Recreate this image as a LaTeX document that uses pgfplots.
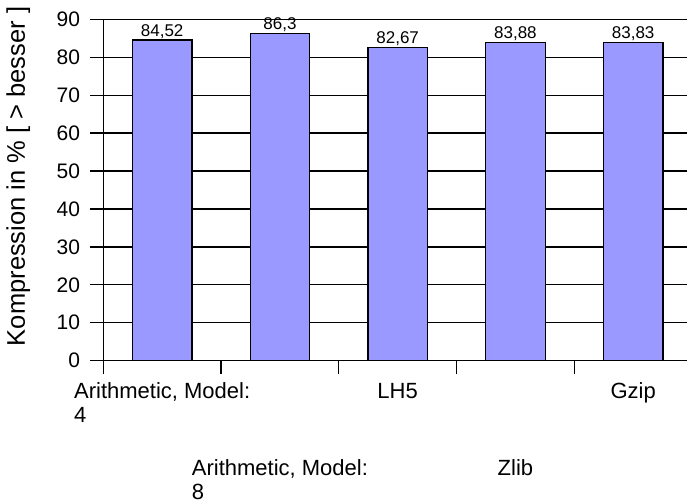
\documentclass[border=0pt]{standalone}
\usepackage{fontspec}
\setmainfont{Liberation Sans}
\usepackage{pgfplots}
\pgfplotsset{compat=1.18}
\definecolor{barblue}{RGB}{153,153,255}
\begin{document}
\begin{tikzpicture}
\begin{axis}[
  scale only axis, width=588.75pt, height=341.4pt,
  xmin=-0.5, xmax=4.5, ymin=0, ymax=90,
  ybar, bar width=59.5pt,
  ytick={0,10,...,90},
  /pgf/number format/assume math mode=true,
  axis x line=bottom, axis y line=left,
  axis line style={-, black, line width=1.4pt},
  ymajorgrids, grid style={black, line width=1.3pt},
  tick align=outside, major tick length=13pt, minor tick length=13pt,
  major x tick style={draw=none},
  minor x tick style={black, line width=1.2pt},
  ytick style={black, line width=1.3pt},
  xtick={0,2,4},
  xticklabels={{\begin{tabular}[t]{@{}l@{}}Arithmetic, Model:\\4\end{tabular}}, LH5, Gzip},
  minor xtick={-0.5,0.5,...,4.5},
  extra x ticks={1,3},
  extra x tick labels={{\begin{tabular}[t]{@{}l@{}}Arithmetic, Model:\\8\end{tabular}}, Zlib},
  extra x tick style={major x tick style={draw=none}, xticklabel style={yshift=-77pt}},
  xticklabel style={font=\fontsize{22}{24}\selectfont, anchor=base, yshift=-24.5pt, inner sep=0pt},
  yticklabel style={font=\fontsize{21}{25}\selectfont, inner sep=0pt, anchor=east, xshift=-10pt},
  ylabel={Kompression in \% [ > besser ]},
  every axis y label/.style={at={(rel axis cs:0,0.54)}, xshift=-97pt, rotate=90, anchor=north, inner sep=0pt, font=\fontsize{25.5}{30}\selectfont},
  nodes near coords,
  point meta=explicit symbolic,
  nodes near coords style={font=\fontsize{17}{19}\selectfont, anchor=base, yshift=4pt, text=black, inner sep=0pt},
]
\addplot[fill=barblue, draw=black, line width=1.2pt] table[meta=lab] {
x y lab
0 84.52 84,52
1 86.3 86,3
2 82.67 82,67
3 83.88 83,88
4 83.83 83,83
};
\coordinate (sw) at (rel axis cs:0,0);
\end{axis}
\pgfresetboundingbox
\path[use as bounding box] ([shift={(-103.3pt,-142.3pt)}]sw) rectangle ([shift={(583.7pt,360.7pt)}]sw);
\end{tikzpicture}
\end{document}
